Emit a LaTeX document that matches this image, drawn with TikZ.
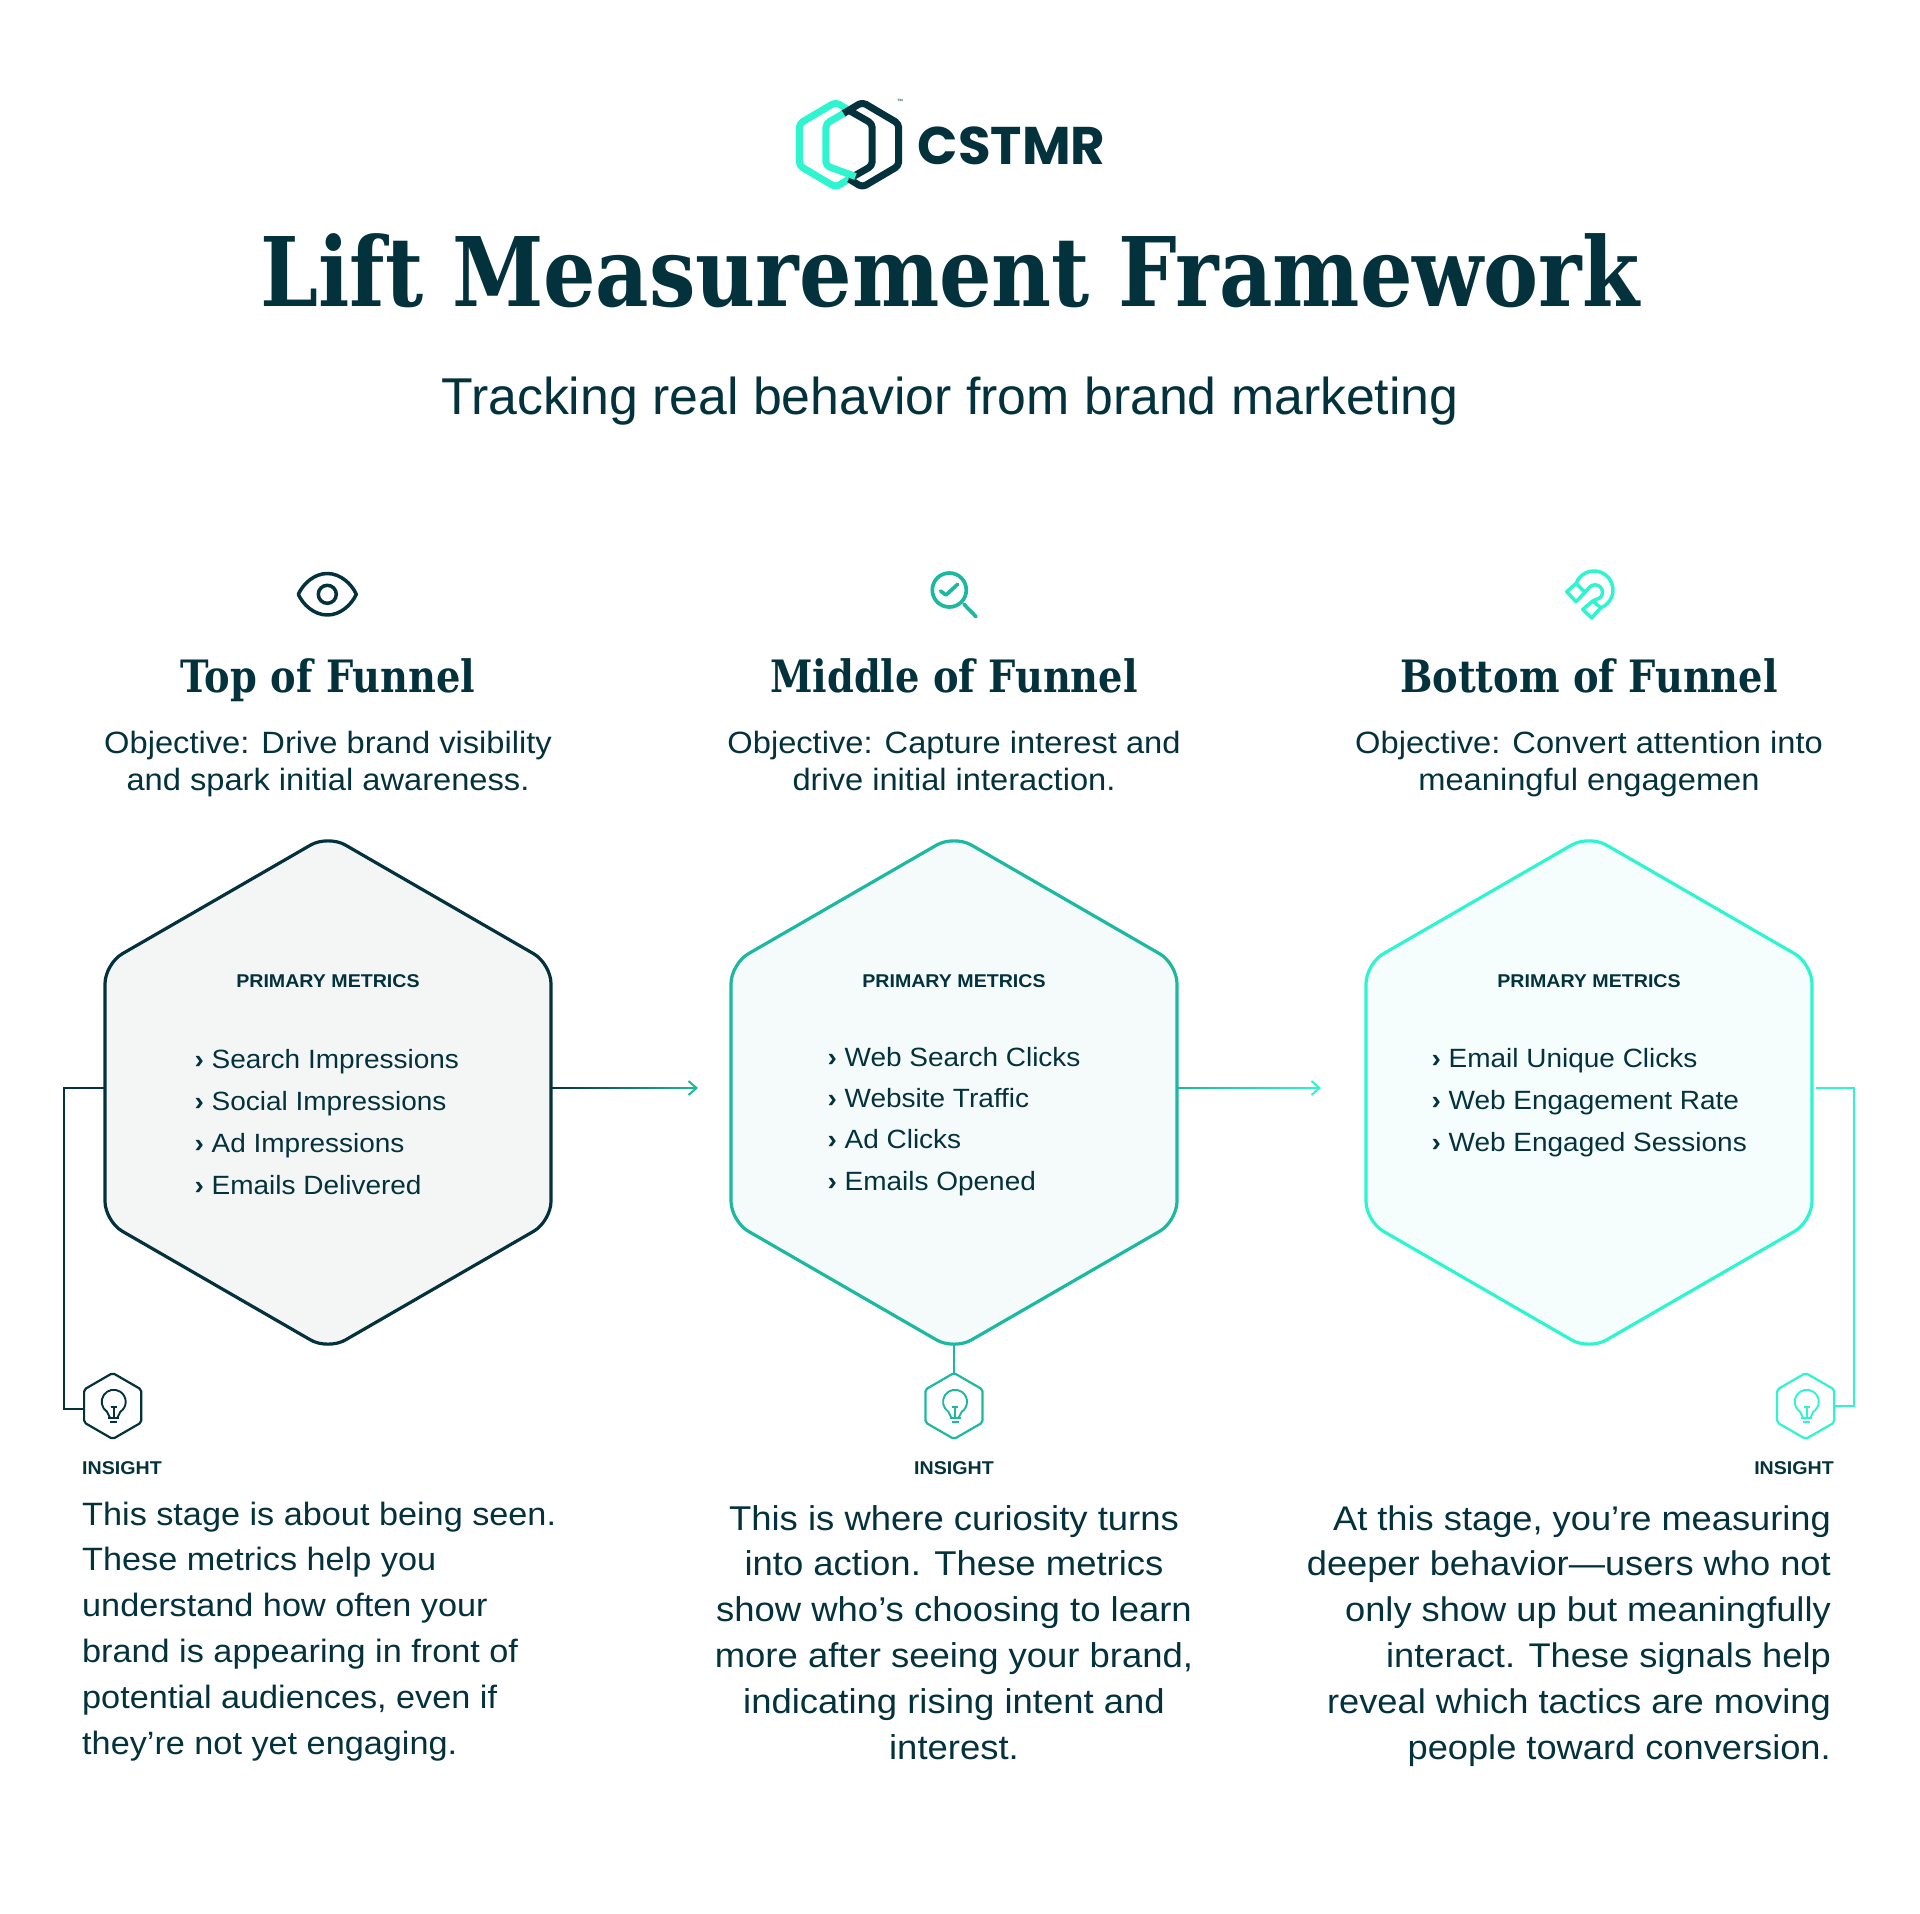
\documentclass[tikz,border=0pt]{standalone}
\usepackage{fontspec}
\setmainfont{Liberation Sans}[FakeStretch=1.06]
\newfontfamily\subfont{Liberation Sans}
\newfontfamily\headfont{DejaVu Serif}[FakeStretch=.86]
\newfontfamily\logofont{Poppins}
\usetikzlibrary{positioning, calc, arrows.meta, shapes.geometric, backgrounds}
\definecolor{inkdark}{HTML}{03323D}
\definecolor{midteal}{HTML}{1DB8A0}
\definecolor{brightteal}{HTML}{2EF5CF}
\definecolor{filla}{HTML}{F4F6F6}
\definecolor{fillb}{HTML}{F4FBFA}
\definecolor{fillc}{HTML}{F5FEFC}
\newcommand{\chev}{\textbf{›}}
\tikzset{
	hexbox/.style={regular polygon, regular polygon sides=6, shape border rotate=30, minimum size=515pt, inner sep=0pt, outer sep=0pt, rounded corners=20pt, line width=3.2pt, draw},
	insighthex/.style={regular polygon, regular polygon sides=6, shape border rotate=30, minimum size=66pt, inner sep=0pt, outer sep=0pt, rounded corners=2pt, line width=2.2pt, fill=white, draw},
	wire/.style={line width=2pt},
	flowtip/.style={line width=1.8pt, -{Straight Barb[length=8pt, width=14pt, line width=2pt]}},
	stagehead/.style={anchor=base, font=\headfont\bfseries\fontsize{44.6}{44.6}\selectfont},
	objective/.style={anchor=base, align=center, font=\fontsize{30.8}{37}\selectfont},
	metrichead/.style={anchor=base, font=\bfseries\fontsize{18.5}{18.5}\selectfont},
	metriclist/.style={anchor=base west, align=left, font=\fontsize{26.4}{#1}\selectfont},
	insighttag/.style={font=\bfseries\fontsize{18.5}{18.5}\selectfont},
	insighttext/.style={font=\fontsize{#1}{45.8}\selectfont},
	bulb/.pic={
		\draw[line width=1.9pt, line join=round] (-5.7, -0.7) ++(0, 6.4) arc[start angle=124, end angle=416, radius=12] -- (4.5, 12) -- (-2.5, 12) -- cycle;
		\draw[line width=1.9pt] (-2, 0.7) -- (4, 0.7) (1, 0.7) -- (1, 12) (-4.5, 12) -- (6.5, 12) (-2.5, 16) -- (4.5, 16);
	},
}
\begin{document}
\begin{tikzpicture}[x=1pt, y=-1pt, text=inkdark, inkdark]
	\useasboundingbox (0, 0) rectangle (1920, 1914);
	% logo
	\begin{scope}[line width=7pt, line join=round, rounded corners=4pt]
		\draw[brightteal] (849, 110.4) -- (835.7, 102.2) -- (799.3, 123.7) -- (799.3, 165.7) -- (835.7, 187.2) -- (849, 179);
		\draw[inkdark] (849, 110.4) -- (872.2, 123.7) -- (872.2, 165.7) -- (849, 179);
		\draw[inkdark] (842, 114.4) -- (862.3, 102.2) -- (898.7, 123.7) -- (898.7, 165.7) -- (862.3, 187.2) -- (849, 179);
		\draw[brightteal] (843.5, 113.5) -- (825.9, 123.7) -- (825.9, 165.7) -- (855.5, 176.5);
	\end{scope}
	\node[anchor=base west, inner sep=0pt, font=\logofont\bfseries\fontsize{53}{53}\selectfont] (brand) at (917.5, 164) {CSTMR};
	\node[inner sep=0pt, font=\fontsize{6}{6}\selectfont] (brandmark) at (900, 101) {™};
	% title
	\node[anchor=base, inner sep=0pt, font=\headfont\bfseries\fontsize{96}{96}\selectfont] (title) at (950, 306) {Lift Measurement Framework};
	\node[anchor=base, inner sep=0pt, font=\subfont\fontsize{51.8}{51.8}\selectfont] (subtitle) at (950, 414) {Tracking real behavior from brand marketing};
	% icons
	\draw[line width=3.5pt, line join=round] (298.3, 594.3) .. controls (303, 584) and (314, 573.5) .. (327.3, 573.5) .. controls (340.6, 573.5) and (351.6, 584) .. (356.3, 594.3) .. controls (351.6, 604.6) and (340.6, 615) .. (327.3, 615) .. controls (314, 615) and (303, 604.6) .. cycle;
	\draw[line width=3.5pt] (327.3, 594.3) circle[radius=9];
	\begin{scope}[shift={(949.3, 590)}, midteal, line width=3.7pt, line cap=round, line join=round]
		\draw (0, 0) circle[radius=17];
		\draw (14.7, 14.3) -- (26.7, 26.7);
		\draw (-8.7, 1) -- (-3.3, 5) -- (8.3, -5.7);
	\end{scope}
	\begin{scope}[shift={(1594, 590)}, brightteal, line width=3.5pt, line join=round]
		\draw (-17.9, -6.5) arc[start angle=200, end angle=429, radius=19] -- (-1.3, 11) -- (6.3, 7.6) arc[start angle=45, end angle=-135, radius=7.5] -- (-9, 2.3) -- cycle;
		\draw (-17.9, -6.5) -- (-27.3, 1.7) -- (-18, 11.7) -- (-9, 2.3);
		\draw (-1.3, 11) -- (-11.3, 19.5) -- (-2.3, 28) -- (6.8, 17.7);
	\end{scope}
	% stage headings
	\node[stagehead] (heada) at (328, 692) {Top of Funnel};
	\node[stagehead] (headb) at (954, 692) {Middle of Funnel};
	\node[stagehead] (headc) at (1589, 692) {Bottom of Funnel};
	\node[objective] (obja) at (328, 790) {Objective: Drive brand visibility\\and spark initial awareness.};
	\node[objective] (objb) at (954, 790) {Objective: Capture interest and\\drive initial interaction.};
	\node[objective] (objc) at (1589, 790) {Objective: Convert attention into\\meaningful engagemen};
	% hexagons
	\node[hexbox, fill=filla, draw=inkdark] (hexa) at (328, 1092.5) {};
	\node[hexbox, fill=fillb, draw=midteal] (hexb) at (954, 1092.5) {};
	\node[hexbox, fill=fillc, draw=brightteal] (hexc) at (1589, 1092.5) {};
	\node[metrichead] (mha) at (328, 987) {PRIMARY METRICS};
	\node[metrichead] (mhb) at (954, 987) {PRIMARY METRICS};
	\node[metrichead] (mhc) at (1589, 987) {PRIMARY METRICS};
	\node[metriclist=42] (lista) at (191, 1194) {\chev{} Search Impressions\\\chev{} Social Impressions\\\chev{} Ad Impressions\\\chev{} Emails Delivered};
	\node[metriclist=41.3] (listb) at (824, 1190) {\chev{} Web Search Clicks\\\chev{} Website Traffic\\\chev{} Ad Clicks\\\chev{} Emails Opened};
	\node[metriclist=42] (listc) at (1428, 1151) {\chev{} Email Unique Clicks\\\chev{} Web Engagement Rate\\\chev{} Web Engaged Sessions};
	% insight markers
	\node[insighthex, draw=inkdark] (insa) at (112.7, 1406) {};
	\node[insighthex, draw=midteal] (insb) at (954, 1406) {};
	\node[insighthex, draw=brightteal] (insc) at (1805.7, 1406) {};
	\pic[inkdark] at (insa.center) {bulb};
	\pic[midteal] at (insb.center) {bulb};
	\pic[brightteal] at (insc.center) {bulb};
	% connectors
	\coordinate (porta) at ($(hexa.east)+(1, -4.5)$);
	\coordinate (tipa) at (698, 1088);
	\coordinate (portb) at ($(hexb.east)+(1, -4.5)$);
	\coordinate (tipb) at (1321, 1088);
	\draw[flowtip, midteal] (porta) -- (tipa);
	\shade[left color=inkdark, right color=midteal] ($(porta)+(0, -0.9)$) rectangle ($(tipa)+(-2, 0.9)$);
	\draw[flowtip, brightteal] (portb) -- (tipb);
	\shade[left color=midteal, right color=brightteal] ($(portb)+(0, -0.9)$) rectangle ($(tipb)+(-2, 0.9)$);
	\begin{scope}[on background layer]
		\draw[wire, inkdark] ($(hexa.west)+(0, -4.5)$) -- (64, 1088) |- ($(insa.west)+(0, 3)$);
		\draw[wire, midteal] (hexb.center) -- (insb.north);
	\end{scope}
	\draw[wire, brightteal] ($(hexc.east)+(4, -4.5)$) -- (1854, 1088) |- (insc.east);
	% insight texts
	\node[insighttag, anchor=base west, inner sep=0pt] (taga) at (82, 1474) {INSIGHT};
	\node[insighttag, anchor=base, inner sep=0pt] (tagb) at (954, 1474) {INSIGHT};
	\node[insighttag, anchor=base east, inner sep=0pt] (tagc) at (1834, 1474) {INSIGHT};
	\node[insighttext=32.3, anchor=base west, align=left, inner sep=0pt] (texta) at (82, 1754) {This stage is about being seen.\\These metrics help you\\understand how often your\\brand is appearing in front of\\potential audiences, even if\\they’re not yet engaging.};
	\node[insighttext=34.4, anchor=base, align=center, inner sep=0pt] (textb) at (954, 1759) {This is where curiosity turns\\into action. These metrics\\show who’s choosing to learn\\more after seeing your brand,\\indicating rising intent and\\interest.};
	\node[insighttext=34.2, anchor=base east, align=right, inner sep=0pt] (textc) at (1831, 1759) {At this stage, you’re measuring\\deeper behavior—users who not\\only show up but meaningfully\\interact. These signals help\\reveal which tactics are moving\\people toward conversion.};
\end{tikzpicture}
\end{document}
